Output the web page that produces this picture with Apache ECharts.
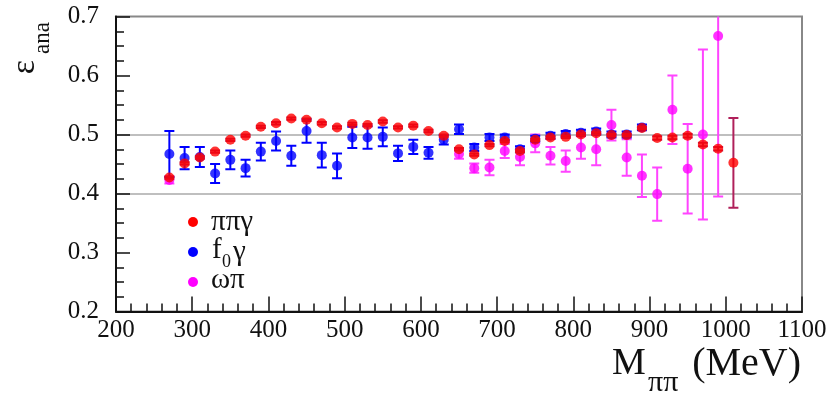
<!DOCTYPE html>
<html><head><meta charset="utf-8">
<script src="https://cdn.jsdelivr.net/npm/echarts@6/dist/echarts.min.js"></script>
<style>html,body{margin:0;padding:0;background:#fff}#c{width:830px;height:398px}</style>
</head><body><div id="c"></div>
<script>
const xs = [270,290,310,330,350,370,390,410,430,450,470,490,510,530,550,570,590,610,630,650,670,690,710,730,750,770,790,810,830,850,870,890,910,930,950,970,990,1010];
const pipigamma = [0.427,0.451,0.461,0.471,0.491,0.498,0.513,0.519,0.527,0.525,0.519,0.512,0.518,0.516,0.522,0.512,0.515,0.506,0.498,0.475,0.466,0.482,0.489,0.472,0.491,0.495,0.496,0.500,0.502,0.499,0.499,0.511,0.494,0.495,0.498,0.483,0.476,0.452];
const pipigammaErr = [0.002,0.002,0.002,0.002,0.002,0.002,0.002,0.002,0.002,0.002,0.002,0.002,0.002,0.002,0.002,0.002,0.002,0.002,0.002,0.002,0.002,0.002,0.002,0.002,0.002,0.002,0.002,0.002,0.002,0.002,0.002,0.002,0.003,0.003,0.003,0.003,0.003,0.076];
const f0gamma = [0.467,0.460,0.462,0.434,0.457,0.443,0.471,0.489,0.464,0.506,0.465,0.447,0.495,0.495,0.496,0.468,0.479,0.469,0.491,0.509,0.478,0.495,0.495,0.475,0.493,0.498,0.501,0.503,0.505,0.500,0.500,0.512,null,null,null,null,null,null];
const f0gammaErr = [0.039,0.019,0.017,0.016,0.016,0.014,0.015,0.016,0.017,0.020,0.021,0.021,0.018,0.019,0.016,0.013,0.012,0.010,0.008,0.008,0.006,0.006,0.005,0.005,0.005,0.005,0.005,0.005,0.005,0.005,0.005,0.005,null,null,null,null,null,null];
const omegapi = [0.423,null,null,null,null,null,null,null,null,null,null,null,null,null,null,null,null,null,null,0.467,0.443,0.444,0.472,0.462,0.485,0.464,0.455,0.478,0.475,0.516,0.461,0.430,0.399,0.542,0.442,0.500,0.667,null];
const omegapiErr = [0.006,null,null,null,null,null,null,null,null,null,null,null,null,null,null,null,null,null,null,0.008,0.008,0.013,0.012,0.014,0.015,0.015,0.018,0.019,0.027,0.026,0.031,0.036,0.045,0.058,0.076,0.144,0.272,null];
const xTicks = [200,300,400,500,600,700,800,900,1000,1100];
const yTicks = [0.2,0.3,0.4,0.5,0.6,0.7];

const FONT = 'Liberation Serif';
function pts(vals){ const o=[]; xs.forEach((x,i)=>{ if(vals[i]!=null) o.push([x,vals[i]]); }); return o; }
function errs(vals,e){ const o=[]; xs.forEach((x,i)=>{ if(vals[i]!=null) o.push([x,vals[i],e[i]]); }); return o; }
function errSeries(name, data, color, z){
  return {
    name: name, type:'custom', z:z, clip:true, silent:true,
    data: data,
    renderItem: function(params, api){
      const x = api.value(0), y = api.value(1), e = api.value(2);
      const top = api.coord([x, y+e]), bot = api.coord([x, y-e]);
      const hw = 5;
      const st = {stroke: color, lineWidth: 2};
      return {type:'group', children:[
        {type:'line', shape:{x1:top[0],y1:top[1],x2:bot[0],y2:bot[1]}, style:st},
        {type:'line', shape:{x1:top[0]-hw,y1:top[1],x2:top[0]+hw,y2:top[1]}, style:st},
        {type:'line', shape:{x1:bot[0]-hw,y1:bot[1],x2:bot[0]+hw,y2:bot[1]}, style:st}
      ]};
    }
  };
}
const chart = echarts.init(document.getElementById('c'), null, {renderer:'canvas'});
const RED='#ff0000', BLUE='#0000ff', MAG='#ff00ff';
chart.setOption({
  animation:false,
  backgroundColor:'#fff',
  grid:{left:116, right:28, top:16.5, bottom:86.5, show:true, borderColor:'#888', borderWidth:2},
  xAxis:{type:'value', min:xTicks[0], max:xTicks[xTicks.length-1], interval:100,
    axisLine:{show:true, lineStyle:{color:'#111', width:2}},
    axisTick:{show:true, inside:true, length:15, lineStyle:{color:'#111', width:1.5}},
    minorTick:{show:true, splitNumber:5, length:8, lineStyle:{color:'#111', width:1.5}},
    splitLine:{show:false},
    axisLabel:{fontFamily:FONT, fontSize:25, color:'#111', margin:6, formatter:v=>String(v)}
  },
  yAxis:{type:'value', min:yTicks[0], max:yTicks[yTicks.length-1], interval:0.1,
    axisLine:{show:true, lineStyle:{color:'#111', width:2}},
    axisTick:{show:true, inside:true, length:14, lineStyle:{color:'#111', width:1.5}},
    minorTick:{show:true, splitNumber:4, length:8, lineStyle:{color:'#111', width:1.5}},
    splitLine:{show:true, lineStyle:{color:['transparent','transparent','#aaa','#aaa','transparent','transparent'], width:1.5}},
    axisLabel:{fontFamily:FONT, fontSize:25, color:'#111', margin:17, formatter:v=>v.toFixed(1)}
  },
  legend:{show:false},
  series:[
    errSeries('ωπ err', errs(omegapi, omegapiErr), '#ff44ff', 2),
    {name:'ωπ', type:'scatter', data:pts(omegapi), symbol:'circle', symbolSize:10, itemStyle:{color:MAG}, z:3},
    errSeries('f0γ err', errs(f0gamma, f0gammaErr), BLUE, 4),
    {name:'f0γ', type:'scatter', data:pts(f0gamma), symbol:'circle', symbolSize:10, itemStyle:{color:BLUE}, z:5},
    errSeries('ππγ err', errs(pipigamma, pipigammaErr), '#b0205a', 6),
    {name:'ππγ', type:'scatter', data:pts(pipigamma), symbol:'circle', symbolSize:10, itemStyle:{color:RED}, z:7}
  ],
  graphic:[
    // y title
    {type:'text', x:25, y:67, rotation:Math.PI/2, style:{text:'ε', font:'34px "Liberation Serif"', fill:'#111', align:'center', verticalAlign:'middle'}},
    {type:'text', x:43, y:38, rotation:Math.PI/2, style:{text:'ana', font:'23px "Liberation Serif"', fill:'#111', align:'center', verticalAlign:'middle'}},
    // x title
    {type:'text', x:612, y:383, style:{text:'M', font:'38px "Liberation Serif"', fill:'#111', align:'left', verticalAlign:'bottom'}},
    {type:'text', x:648, y:398, style:{text:'ππ', font:'30px "Liberation Serif"', fill:'#111', align:'left', verticalAlign:'bottom'}},
    {type:'text', x:801, y:384, style:{text:'(MeV)', font:'40px "Liberation Serif"', fill:'#111', align:'right', verticalAlign:'bottom'}},
    // legend
    {type:'circle', shape:{cx:193, cy:222, r:5}, style:{fill:RED}},
    {type:'text', x:211, y:222, style:{text:'ππγ', font:'29px "Liberation Serif"', fill:'#111', verticalAlign:'middle'}},
    {type:'circle', shape:{cx:193, cy:252, r:5}, style:{fill:BLUE}},
    {type:'text', x:212, y:250, style:{text:'f', font:'29px "Liberation Serif"', fill:'#111', verticalAlign:'middle'}},
    {type:'text', x:222, y:262, style:{text:'0', font:'18px "Liberation Serif"', fill:'#111', verticalAlign:'middle'}},
    {type:'text', x:233, y:252, style:{text:'γ', font:'29px "Liberation Serif"', fill:'#111', verticalAlign:'middle'}},
    {type:'circle', shape:{cx:193, cy:282, r:5}, style:{fill:MAG}},
    {type:'text', x:211, y:280, style:{text:'ωπ', font:'29px "Liberation Serif"', fill:'#111', verticalAlign:'middle'}}
  ]
});
</script></body></html>
